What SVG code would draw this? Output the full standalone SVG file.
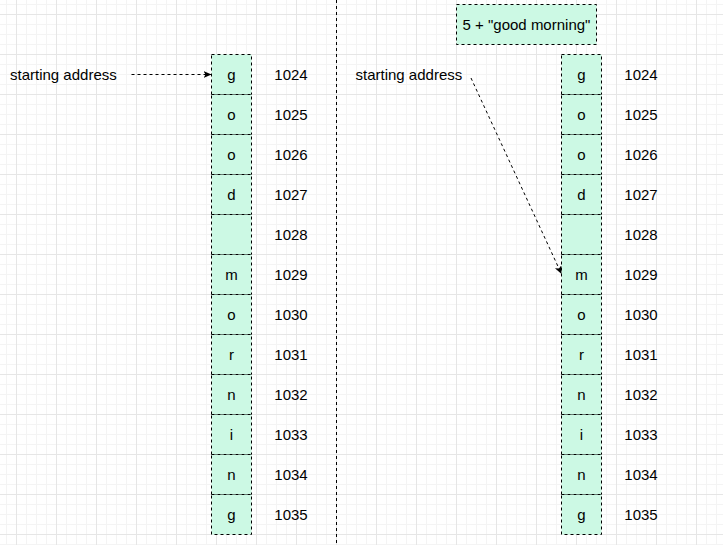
<svg xmlns="http://www.w3.org/2000/svg" width="723" height="545" viewBox="0 0 723 545">
<defs>
<pattern id="minor" x="6" y="4" width="10" height="10" patternUnits="userSpaceOnUse">
<path d="M0.5,0V10M0,0.5H10" stroke="#f4f4f4" stroke-width="1" fill="none"/>
</pattern>
<pattern id="major" x="16" y="14" width="40" height="40" patternUnits="userSpaceOnUse">
<path d="M0.5,0V40M0,0.5H40" stroke="#e6e6e6" stroke-width="1" fill="none"/>
</pattern>
<marker id="arr" markerUnits="userSpaceOnUse" markerWidth="10" markerHeight="8" refX="8" refY="3.5" orient="auto">
<path d="M0,0 L8,3.5 L0,7 L2,3.5 Z" fill="#000"/>
</marker>
</defs>
<style>
.cell{fill:#ccf9e4;stroke:#000;stroke-width:1;stroke-dasharray:3 3}
.t{font-family:"Liberation Sans",Arial,sans-serif;font-size:15px;fill:#000}
.c{text-anchor:middle}
.conn{fill:none;stroke:#000;stroke-width:1;stroke-dasharray:3 3}
</style>
<rect width="723" height="545" fill="#fff"/>
<rect width="723" height="545" fill="url(#minor)"/>
<rect width="723" height="545" fill="url(#major)"/>

<g id="divider"><line x1="336.5" y1="0" x2="336.5" y2="545" class="conn"/></g>

<g id="label-left"><text class="t" x="10" y="80">starting address</text></g>
<g id="label-right"><text class="t" x="355.5" y="80">starting address</text></g>

<g id="expr"><rect class="cell" x="456.5" y="4.5" width="140" height="40"/><text class="t c" x="526.5" y="30">5 + "good morning"</text></g>

<g id="left-column">
<g id="L0"><rect class="cell" x="211.5" y="54.5" width="40" height="40"/><text class="t c" x="231.5" y="80">g</text><text class="t c" x="291" y="80">1024</text></g>
<g id="L1"><rect class="cell" x="211.5" y="94.5" width="40" height="40"/><text class="t c" x="231.5" y="120">o</text><text class="t c" x="291" y="120">1025</text></g>
<g id="L2"><rect class="cell" x="211.5" y="134.5" width="40" height="40"/><text class="t c" x="231.5" y="160">o</text><text class="t c" x="291" y="160">1026</text></g>
<g id="L3"><rect class="cell" x="211.5" y="174.5" width="40" height="40"/><text class="t c" x="231.5" y="200">d</text><text class="t c" x="291" y="200">1027</text></g>
<g id="L4"><rect class="cell" x="211.5" y="214.5" width="40" height="40"/><text class="t c" x="291" y="240">1028</text></g>
<g id="L5"><rect class="cell" x="211.5" y="254.5" width="40" height="40"/><text class="t c" x="231.5" y="280">m</text><text class="t c" x="291" y="280">1029</text></g>
<g id="L6"><rect class="cell" x="211.5" y="294.5" width="40" height="40"/><text class="t c" x="231.5" y="320">o</text><text class="t c" x="291" y="320">1030</text></g>
<g id="L7"><rect class="cell" x="211.5" y="334.5" width="40" height="40"/><text class="t c" x="231.5" y="360">r</text><text class="t c" x="291" y="360">1031</text></g>
<g id="L8"><rect class="cell" x="211.5" y="374.5" width="40" height="40"/><text class="t c" x="231.5" y="400">n</text><text class="t c" x="291" y="400">1032</text></g>
<g id="L9"><rect class="cell" x="211.5" y="414.5" width="40" height="40"/><text class="t c" x="231.5" y="440">i</text><text class="t c" x="291" y="440">1033</text></g>
<g id="L10"><rect class="cell" x="211.5" y="454.5" width="40" height="40"/><text class="t c" x="231.5" y="480">n</text><text class="t c" x="291" y="480">1034</text></g>
<g id="L11"><rect class="cell" x="211.5" y="494.5" width="40" height="40"/><text class="t c" x="231.5" y="520">g</text><text class="t c" x="291" y="520">1035</text></g>
</g>

<g id="right-column">
<g id="R0"><rect class="cell" x="561.5" y="54.5" width="40" height="40"/><text class="t c" x="581.5" y="80">g</text><text class="t c" x="641" y="80">1024</text></g>
<g id="R1"><rect class="cell" x="561.5" y="94.5" width="40" height="40"/><text class="t c" x="581.5" y="120">o</text><text class="t c" x="641" y="120">1025</text></g>
<g id="R2"><rect class="cell" x="561.5" y="134.5" width="40" height="40"/><text class="t c" x="581.5" y="160">o</text><text class="t c" x="641" y="160">1026</text></g>
<g id="R3"><rect class="cell" x="561.5" y="174.5" width="40" height="40"/><text class="t c" x="581.5" y="200">d</text><text class="t c" x="641" y="200">1027</text></g>
<g id="R4"><rect class="cell" x="561.5" y="214.5" width="40" height="40"/><text class="t c" x="641" y="240">1028</text></g>
<g id="R5"><rect class="cell" x="561.5" y="254.5" width="40" height="40"/><text class="t c" x="581.5" y="280">m</text><text class="t c" x="641" y="280">1029</text></g>
<g id="R6"><rect class="cell" x="561.5" y="294.5" width="40" height="40"/><text class="t c" x="581.5" y="320">o</text><text class="t c" x="641" y="320">1030</text></g>
<g id="R7"><rect class="cell" x="561.5" y="334.5" width="40" height="40"/><text class="t c" x="581.5" y="360">r</text><text class="t c" x="641" y="360">1031</text></g>
<g id="R8"><rect class="cell" x="561.5" y="374.5" width="40" height="40"/><text class="t c" x="581.5" y="400">n</text><text class="t c" x="641" y="400">1032</text></g>
<g id="R9"><rect class="cell" x="561.5" y="414.5" width="40" height="40"/><text class="t c" x="581.5" y="440">i</text><text class="t c" x="641" y="440">1033</text></g>
<g id="R10"><rect class="cell" x="561.5" y="454.5" width="40" height="40"/><text class="t c" x="581.5" y="480">n</text><text class="t c" x="641" y="480">1034</text></g>
<g id="R11"><rect class="cell" x="561.5" y="494.5" width="40" height="40"/><text class="t c" x="581.5" y="520">g</text><text class="t c" x="641" y="520">1035</text></g>
</g>

<g id="connectors">
<line class="conn" x1="131.5" y1="74.5" x2="211.5" y2="74.5" marker-end="url(#arr)"/>
<line class="conn" x1="471" y1="78" x2="561.5" y2="274" marker-end="url(#arr)"/>
</g>
</svg>
